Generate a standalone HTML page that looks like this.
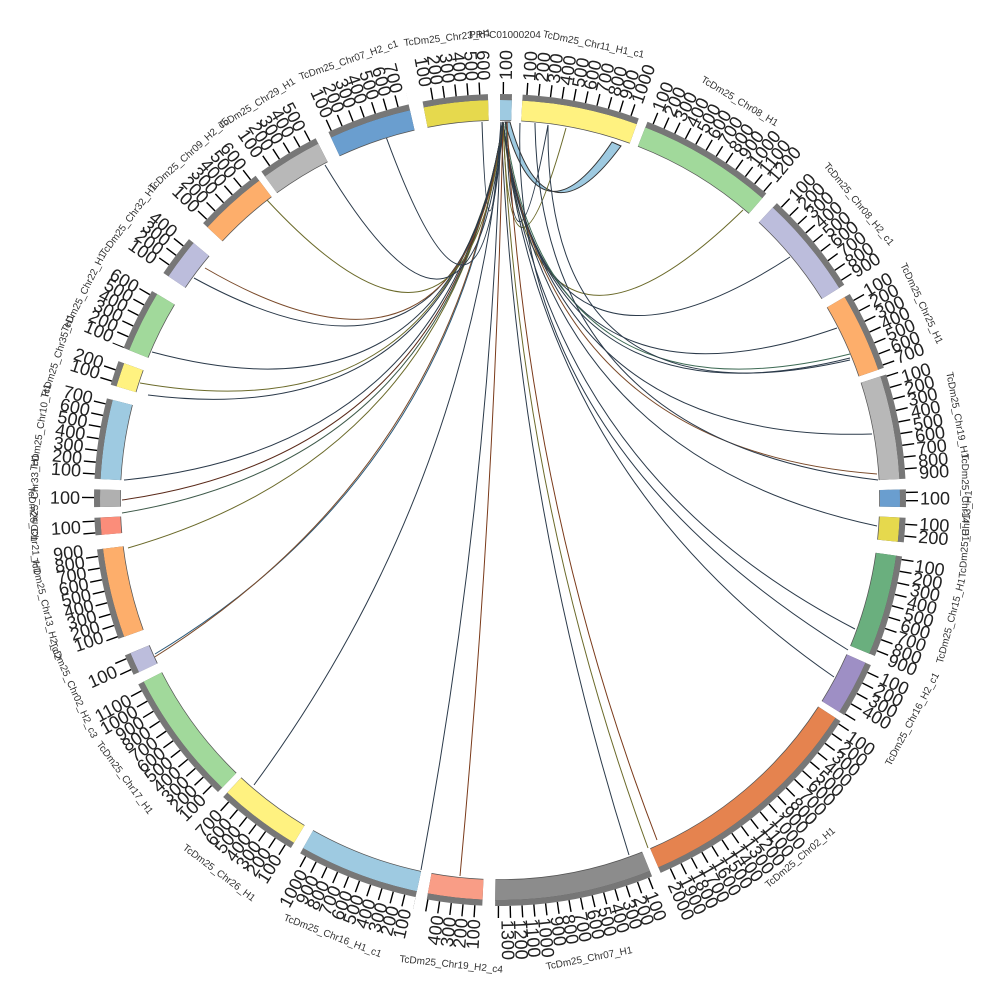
<!DOCTYPE html>
<html><head><meta charset="utf-8"><style>
html,body{margin:0;padding:0;background:#fff;width:1000px;height:1000px;overflow:hidden}
svg{display:block}
circle{fill:none}
.n text{font-family:"Liberation Sans",sans-serif;font-size:18px;fill:#222}
.nm text{font-family:"Liberation Sans",sans-serif;font-size:10px;fill:#333;text-anchor:middle}
.lk path{fill:none;stroke-width:1}
</style></head><body>
<svg width="1000" height="1000" viewBox="0 0 1000 1000" xmlns="http://www.w3.org/2000/svg">
<defs>
<g id="ga">
<circle r="390" pathLength="360" stroke-dasharray="1.7 400" transform="rotate(-90)"/>
<circle r="390" pathLength="360" stroke-dasharray="16.8 400" transform="rotate(-86.8)"/>
<circle r="390" pathLength="360" stroke-dasharray="19.7 400" transform="rotate(-68.7)"/>
<circle r="390" pathLength="360" stroke-dasharray="15 400" transform="rotate(-47)"/>
<circle r="390" pathLength="360" stroke-dasharray="11.5 400" transform="rotate(-30.5)"/>
<circle r="390" pathLength="360" stroke-dasharray="15 400" transform="rotate(-18)"/>
<circle r="390" pathLength="360" stroke-dasharray="2.5 400" transform="rotate(-1.5)"/>
<circle r="390" pathLength="360" stroke-dasharray="3.5 400" transform="rotate(2.5)"/>
<circle r="390" pathLength="360" stroke-dasharray="14.6 400" transform="rotate(8)"/>
<circle r="390" pathLength="360" stroke-dasharray="8 400" transform="rotate(24)"/>
<circle r="390" pathLength="360" stroke-dasharray="33.7 400" transform="rotate(33)"/>
<circle r="390" pathLength="360" stroke-dasharray="22.7 400" transform="rotate(68)"/>
<circle r="390" pathLength="360" stroke-dasharray="7.9 400" transform="rotate(92.5)"/>
<circle r="390" pathLength="360" stroke-dasharray="17.5 400" transform="rotate(102)"/>
<circle r="390" pathLength="360" stroke-dasharray="12 400" transform="rotate(121)"/>
<circle r="390" pathLength="360" stroke-dasharray="19 400" transform="rotate(134)"/>
<circle r="390" pathLength="360" stroke-dasharray="3 400" transform="rotate(154.5)"/>
<circle r="390" pathLength="360" stroke-dasharray="13 400" transform="rotate(160)"/>
<circle r="390" pathLength="360" stroke-dasharray="2.5 400" transform="rotate(175)"/>
<circle r="390" pathLength="360" stroke-dasharray="2.5 400" transform="rotate(179)"/>
<circle r="390" pathLength="360" stroke-dasharray="11.5 400" transform="rotate(183)"/>
<circle r="390" pathLength="360" stroke-dasharray="3.5 400" transform="rotate(196.5)"/>
<circle r="390" pathLength="360" stroke-dasharray="9 400" transform="rotate(202)"/>
<circle r="390" pathLength="360" stroke-dasharray="6 400" transform="rotate(214)"/>
<circle r="390" pathLength="360" stroke-dasharray="10 400" transform="rotate(223)"/>
<circle r="390" pathLength="360" stroke-dasharray="9 400" transform="rotate(234)"/>
<circle r="390" pathLength="360" stroke-dasharray="12 400" transform="rotate(245)"/>
<circle r="390" pathLength="360" stroke-dasharray="9.3 400" transform="rotate(259)"/>
</g>
<g id="gb">
<circle r="403" pathLength="360" stroke-dasharray="1.7 400" transform="rotate(-90)"/>
<circle r="403" pathLength="360" stroke-dasharray="16.8 400" transform="rotate(-86.8)"/>
<circle r="403" pathLength="360" stroke-dasharray="19.7 400" transform="rotate(-68.7)"/>
<circle r="403" pathLength="360" stroke-dasharray="15 400" transform="rotate(-47)"/>
<circle r="403" pathLength="360" stroke-dasharray="11.5 400" transform="rotate(-30.5)"/>
<circle r="403" pathLength="360" stroke-dasharray="15 400" transform="rotate(-18)"/>
<circle r="403" pathLength="360" stroke-dasharray="2.5 400" transform="rotate(-1.5)"/>
<circle r="403" pathLength="360" stroke-dasharray="3.5 400" transform="rotate(2.5)"/>
<circle r="403" pathLength="360" stroke-dasharray="14.6 400" transform="rotate(8)"/>
<circle r="403" pathLength="360" stroke-dasharray="8 400" transform="rotate(24)"/>
<circle r="403" pathLength="360" stroke-dasharray="33.7 400" transform="rotate(33)"/>
<circle r="403" pathLength="360" stroke-dasharray="22.7 400" transform="rotate(68)"/>
<circle r="403" pathLength="360" stroke-dasharray="7.9 400" transform="rotate(92.5)"/>
<circle r="403" pathLength="360" stroke-dasharray="17.5 400" transform="rotate(102)"/>
<circle r="403" pathLength="360" stroke-dasharray="12 400" transform="rotate(121)"/>
<circle r="403" pathLength="360" stroke-dasharray="19 400" transform="rotate(134)"/>
<circle r="403" pathLength="360" stroke-dasharray="3 400" transform="rotate(154.5)"/>
<circle r="403" pathLength="360" stroke-dasharray="13 400" transform="rotate(160)"/>
<circle r="403" pathLength="360" stroke-dasharray="2.5 400" transform="rotate(175)"/>
<circle r="403" pathLength="360" stroke-dasharray="2.5 400" transform="rotate(179)"/>
<circle r="403" pathLength="360" stroke-dasharray="11.5 400" transform="rotate(183)"/>
<circle r="403" pathLength="360" stroke-dasharray="3.5 400" transform="rotate(196.5)"/>
<circle r="403" pathLength="360" stroke-dasharray="9 400" transform="rotate(202)"/>
<circle r="403" pathLength="360" stroke-dasharray="6 400" transform="rotate(214)"/>
<circle r="403" pathLength="360" stroke-dasharray="10 400" transform="rotate(223)"/>
<circle r="403" pathLength="360" stroke-dasharray="9 400" transform="rotate(234)"/>
<circle r="403" pathLength="360" stroke-dasharray="12 400" transform="rotate(245)"/>
<circle r="403" pathLength="360" stroke-dasharray="9.3 400" transform="rotate(259)"/>
</g>
<mask id="tm" maskUnits="userSpaceOnUse" x="-500" y="-500" width="1000" height="1000">
<use href="#gb" stroke="#fff" stroke-width="34"/>
</mask>
</defs>

<g class="lk">
<path d="M612,142 Q540,250 505,122 L510,122 Q545,250 621,146 Z" stroke="#333" stroke-width="0.6" style="fill:#9ecae1"/>
<path d="M503,122 Q510,330 566,128" stroke="#6b6a2a"/>
<path d="M506,122 Q512,320 548,125" stroke="#2b3a4a"/>
<path d="M503,122 Q531,417 743,210" stroke="#6b6a2a"/>
<path d="M503,122 Q537,422 790,257" stroke="#2b3a4a"/>
<path d="M503,122 Q542,431 837,328" stroke="#2b3a4a"/>
<path d="M503,124 Q544,435 850,358" stroke="#2b3a4a" stroke-width="2.5"/>
<path d="M505,124 Q544,430 850,354" stroke="#3e6b55" stroke-width="1.5"/>
<path d="M503,122 Q547,444 872,434" stroke="#2b3a4a"/>
<path d="M503,122 Q547,449 877,474" stroke="#7a4a2a"/>
<path d="M503,122 Q547,456 877,526" stroke="#2b3a4a"/>
<path d="M503,122 Q545,469 855,629" stroke="#2b3a4a"/>
<path d="M503,122 Q542,475 834,677" stroke="#2b3a4a"/>
<path d="M503,122 Q519,496 648,848" stroke="#6b6a2a" stroke-width="1.5"/>
<path d="M501,122 Q516,497 629,855" stroke="#2b3a4a" stroke-width="1.5"/>
<path d="M507,122 Q525,497 657,840" stroke="#7a3a1a"/>
<path d="M503,122 Q495,500 460,876" stroke="#7a3a1a"/>
<path d="M501,122 Q490,499 421,870" stroke="#2b3a4a"/>
<path d="M503,122 Q471,490 254,785" stroke="#2b3a4a"/>
<path d="M503,122 Q457,472 155,654" stroke="#2b5a7a"/>
<path d="M503,122 Q456,469 150,660" stroke="#7a4a2a"/>
<path d="M503,122 Q453,454 128,548" stroke="#6b6a2a"/>
<path d="M503,122 Q453,458 122,513" stroke="#3e5a4a"/>
<path d="M503,122 Q453,453 122,500" stroke="#5a2a1a" stroke-width="3"/>
<path d="M503,122 Q453,448 124,480" stroke="#2b3a4a"/>
<path d="M503,122 Q455,438 140,383" stroke="#6b6a2a"/>
<path d="M503,122 Q457,434 148,395" stroke="#2b3a4a"/>
<path d="M503,122 Q457,434 152,352" stroke="#2b3a4a"/>
<path d="M503,122 Q462,425 194,278" stroke="#2b3a4a"/>
<path d="M503,122 Q466,420 205,268" stroke="#7a4a2a"/>
<path d="M503,122 Q469,418 267,200" stroke="#6b6a2a"/>
<path d="M503,122 Q474,413 325,165" stroke="#2b3a4a"/>
<path d="M503,122 Q482,409 380,120" stroke="#2b3a4a"/>
<path d="M501,122 Q488,300 482,122" stroke="#2b3a4a"/>
<path d="M548,125 Q545,430 850,360" stroke="#2b3a4a"/>
<path d="M535,123 Q540,440 878,480" stroke="#2b3a4a"/>
<path d="M520,123 Q510,440 848,650" stroke="#2b3a4a"/>
</g>

<g transform="translate(500,500)">
<use href="#ga" stroke="#555" stroke-width="21.5"/>
<g stroke-width="20">
<circle r="390" pathLength="360" stroke="#9ecae1" stroke-dasharray="1.7 400" transform="rotate(-90)"/>
<circle r="390" pathLength="360" stroke="#fff280" stroke-dasharray="16.8 400" transform="rotate(-86.8)"/>
<circle r="390" pathLength="360" stroke="#a1d99b" stroke-dasharray="19.7 400" transform="rotate(-68.7)"/>
<circle r="390" pathLength="360" stroke="#bcbddc" stroke-dasharray="15 400" transform="rotate(-47)"/>
<circle r="390" pathLength="360" stroke="#fdae6b" stroke-dasharray="11.5 400" transform="rotate(-30.5)"/>
<circle r="390" pathLength="360" stroke="#b8b8b8" stroke-dasharray="15 400" transform="rotate(-18)"/>
<circle r="390" pathLength="360" stroke="#6a9ecf" stroke-dasharray="2.5 400" transform="rotate(-1.5)"/>
<circle r="390" pathLength="360" stroke="#e6d94d" stroke-dasharray="3.5 400" transform="rotate(2.5)"/>
<circle r="390" pathLength="360" stroke="#6aaf7e" stroke-dasharray="14.6 400" transform="rotate(8)"/>
<circle r="390" pathLength="360" stroke="#9e8fc5" stroke-dasharray="8 400" transform="rotate(24)"/>
<circle r="390" pathLength="360" stroke="#e5834f" stroke-dasharray="33.7 400" transform="rotate(33)"/>
<circle r="390" pathLength="360" stroke="#8c8c8c" stroke-dasharray="22.7 400" transform="rotate(68)"/>
<circle r="390" pathLength="360" stroke="#f99d86" stroke-dasharray="7.9 400" transform="rotate(92.5)"/>
<circle r="390" pathLength="360" stroke="#9ecae1" stroke-dasharray="17.5 400" transform="rotate(102)"/>
<circle r="390" pathLength="360" stroke="#fff280" stroke-dasharray="12 400" transform="rotate(121)"/>
<circle r="390" pathLength="360" stroke="#a1d99b" stroke-dasharray="19 400" transform="rotate(134)"/>
<circle r="390" pathLength="360" stroke="#bcbddc" stroke-dasharray="3 400" transform="rotate(154.5)"/>
<circle r="390" pathLength="360" stroke="#fdae6b" stroke-dasharray="13 400" transform="rotate(160)"/>
<circle r="390" pathLength="360" stroke="#fb8d7a" stroke-dasharray="2.5 400" transform="rotate(175)"/>
<circle r="390" pathLength="360" stroke="#b0b0b0" stroke-dasharray="2.5 400" transform="rotate(179)"/>
<circle r="390" pathLength="360" stroke="#9ecae1" stroke-dasharray="11.5 400" transform="rotate(183)"/>
<circle r="390" pathLength="360" stroke="#fff280" stroke-dasharray="3.5 400" transform="rotate(196.5)"/>
<circle r="390" pathLength="360" stroke="#a1d99b" stroke-dasharray="9 400" transform="rotate(202)"/>
<circle r="390" pathLength="360" stroke="#bcbddc" stroke-dasharray="6 400" transform="rotate(214)"/>
<circle r="390" pathLength="360" stroke="#fdae6b" stroke-dasharray="10 400" transform="rotate(223)"/>
<circle r="390" pathLength="360" stroke="#b8b8b8" stroke-dasharray="9 400" transform="rotate(234)"/>
<circle r="390" pathLength="360" stroke="#6a9ecf" stroke-dasharray="12 400" transform="rotate(245)"/>
<circle r="390" pathLength="360" stroke="#e6d94d" stroke-dasharray="9.3 400" transform="rotate(259)"/>
</g>
<use href="#gb" stroke="#777" stroke-width="6"/>
<circle r="412" stroke="#000" stroke-width="12" stroke-dasharray="1.4 10.6" mask="url(#tm)"/>

<g class="n">
<g>
<text transform="rotate(-89.2)" x="420" dy="6">100</text>
<text transform="rotate(-86)" x="420" dy="6">100</text>
<text transform="rotate(-84.3)" x="420" dy="6">200</text>
<text transform="rotate(-82.7)" x="420" dy="6">300</text>
<text transform="rotate(-81)" x="420" dy="6">400</text>
<text transform="rotate(-79.3)" x="420" dy="6">500</text>
<text transform="rotate(-77.7)" x="420" dy="6">600</text>
<text transform="rotate(-76)" x="420" dy="6">700</text>
<text transform="rotate(-74.3)" x="420" dy="6">800</text>
<text transform="rotate(-72.7)" x="420" dy="6">900</text>
<text transform="rotate(-71)" x="420" dy="6">1000</text>
<text transform="rotate(-68)" x="420" dy="6">100</text>
<text transform="rotate(-66.3)" x="420" dy="6">200</text>
<text transform="rotate(-64.7)" x="420" dy="6">300</text>
<text transform="rotate(-63)" x="420" dy="6">400</text>
<text transform="rotate(-61.3)" x="420" dy="6">500</text>
<text transform="rotate(-59.7)" x="420" dy="6">600</text>
<text transform="rotate(-58)" x="420" dy="6">700</text>
<text transform="rotate(-56.3)" x="420" dy="6">800</text>
<text transform="rotate(-54.7)" x="420" dy="6">900</text>
<text transform="rotate(-53)" x="420" dy="6">1000</text>
<text transform="rotate(-51.3)" x="420" dy="6">1100</text>
<text transform="rotate(-49.7)" x="420" dy="6">1200</text>
<text transform="rotate(-46)" x="420" dy="6">100</text>
<text transform="rotate(-44.3)" x="420" dy="6">200</text>
<text transform="rotate(-42.7)" x="420" dy="6">300</text>
<text transform="rotate(-41)" x="420" dy="6">400</text>
<text transform="rotate(-39.3)" x="420" dy="6">500</text>
<text transform="rotate(-37.7)" x="420" dy="6">600</text>
<text transform="rotate(-36)" x="420" dy="6">700</text>
<text transform="rotate(-34.3)" x="420" dy="6">800</text>
<text transform="rotate(-32.7)" x="420" dy="6">900</text>
<text transform="rotate(-29.7)" x="420" dy="6">100</text>
<text transform="rotate(-28)" x="420" dy="6">200</text>
<text transform="rotate(-26.3)" x="420" dy="6">300</text>
<text transform="rotate(-24.7)" x="420" dy="6">400</text>
<text transform="rotate(-23)" x="420" dy="6">500</text>
<text transform="rotate(-21.3)" x="420" dy="6">600</text>
<text transform="rotate(-19.7)" x="420" dy="6">700</text>
<text transform="rotate(-17)" x="420" dy="6">100</text>
<text transform="rotate(-15.3)" x="420" dy="6">200</text>
<text transform="rotate(-13.7)" x="420" dy="6">300</text>
<text transform="rotate(-12)" x="420" dy="6">400</text>
<text transform="rotate(-10.3)" x="420" dy="6">500</text>
<text transform="rotate(-8.7)" x="420" dy="6">600</text>
<text transform="rotate(-7)" x="420" dy="6">700</text>
<text transform="rotate(-5.3)" x="420" dy="6">800</text>
<text transform="rotate(-3.7)" x="420" dy="6">900</text>
<text transform="rotate(-0.2)" x="420" dy="6">100</text>
<text transform="rotate(3.3)" x="420" dy="6">100</text>
<text transform="rotate(5)" x="420" dy="6">200</text>
<text transform="rotate(9)" x="420" dy="6">100</text>
<text transform="rotate(10.7)" x="420" dy="6">200</text>
<text transform="rotate(12.3)" x="420" dy="6">300</text>
<text transform="rotate(14)" x="420" dy="6">400</text>
<text transform="rotate(15.7)" x="420" dy="6">500</text>
<text transform="rotate(17.3)" x="420" dy="6">600</text>
<text transform="rotate(19)" x="420" dy="6">700</text>
<text transform="rotate(20.7)" x="420" dy="6">800</text>
<text transform="rotate(22.3)" x="420" dy="6">900</text>
<text transform="rotate(25)" x="420" dy="6">100</text>
<text transform="rotate(26.7)" x="420" dy="6">200</text>
<text transform="rotate(28.3)" x="420" dy="6">300</text>
<text transform="rotate(30)" x="420" dy="6">400</text>
<text transform="rotate(34)" x="420" dy="6">100</text>
<text transform="rotate(35.7)" x="420" dy="6">200</text>
<text transform="rotate(37.3)" x="420" dy="6">300</text>
<text transform="rotate(39)" x="420" dy="6">400</text>
<text transform="rotate(40.7)" x="420" dy="6">500</text>
<text transform="rotate(42.3)" x="420" dy="6">600</text>
<text transform="rotate(44)" x="420" dy="6">700</text>
<text transform="rotate(45.7)" x="420" dy="6">800</text>
<text transform="rotate(47.3)" x="420" dy="6">900</text>
<text transform="rotate(49)" x="420" dy="6">1000</text>
<text transform="rotate(50.7)" x="420" dy="6">1100</text>
<text transform="rotate(52.3)" x="420" dy="6">1200</text>
<text transform="rotate(54)" x="420" dy="6">1300</text>
<text transform="rotate(55.7)" x="420" dy="6">1400</text>
<text transform="rotate(57.3)" x="420" dy="6">1500</text>
<text transform="rotate(59)" x="420" dy="6">1600</text>
<text transform="rotate(60.7)" x="420" dy="6">1700</text>
<text transform="rotate(62.3)" x="420" dy="6">1800</text>
<text transform="rotate(64)" x="420" dy="6">1900</text>
<text transform="rotate(65.7)" x="420" dy="6">2000</text>
<text transform="rotate(69)" x="420" dy="6">100</text>
<text transform="rotate(70.7)" x="420" dy="6">200</text>
<text transform="rotate(72.3)" x="420" dy="6">300</text>
<text transform="rotate(74)" x="420" dy="6">400</text>
<text transform="rotate(75.7)" x="420" dy="6">500</text>
<text transform="rotate(77.3)" x="420" dy="6">600</text>
<text transform="rotate(79)" x="420" dy="6">700</text>
<text transform="rotate(80.7)" x="420" dy="6">800</text>
<text transform="rotate(82.3)" x="420" dy="6">900</text>
<text transform="rotate(84)" x="420" dy="6">1000</text>
<text transform="rotate(85.7)" x="420" dy="6">1100</text>
<text transform="rotate(87.3)" x="420" dy="6">1200</text>
<text transform="rotate(89)" x="420" dy="6">1300</text>
</g>
<g text-anchor="end">
<text transform="rotate(-86.5)" x="-420" dy="6">100</text>
<text transform="rotate(-84.8)" x="-420" dy="6">200</text>
<text transform="rotate(-83.2)" x="-420" dy="6">300</text>
<text transform="rotate(-81.5)" x="-420" dy="6">400</text>
<text transform="rotate(-77)" x="-420" dy="6">100</text>
<text transform="rotate(-75.3)" x="-420" dy="6">200</text>
<text transform="rotate(-73.7)" x="-420" dy="6">300</text>
<text transform="rotate(-72)" x="-420" dy="6">400</text>
<text transform="rotate(-70.3)" x="-420" dy="6">500</text>
<text transform="rotate(-68.7)" x="-420" dy="6">600</text>
<text transform="rotate(-67)" x="-420" dy="6">700</text>
<text transform="rotate(-65.3)" x="-420" dy="6">800</text>
<text transform="rotate(-63.7)" x="-420" dy="6">900</text>
<text transform="rotate(-62)" x="-420" dy="6">1000</text>
<text transform="rotate(-58)" x="-420" dy="6">100</text>
<text transform="rotate(-56.3)" x="-420" dy="6">200</text>
<text transform="rotate(-54.7)" x="-420" dy="6">300</text>
<text transform="rotate(-53)" x="-420" dy="6">400</text>
<text transform="rotate(-51.3)" x="-420" dy="6">500</text>
<text transform="rotate(-49.7)" x="-420" dy="6">600</text>
<text transform="rotate(-48)" x="-420" dy="6">700</text>
<text transform="rotate(-45)" x="-420" dy="6">100</text>
<text transform="rotate(-43.3)" x="-420" dy="6">200</text>
<text transform="rotate(-41.7)" x="-420" dy="6">300</text>
<text transform="rotate(-40)" x="-420" dy="6">400</text>
<text transform="rotate(-38.3)" x="-420" dy="6">500</text>
<text transform="rotate(-36.7)" x="-420" dy="6">600</text>
<text transform="rotate(-35)" x="-420" dy="6">700</text>
<text transform="rotate(-33.3)" x="-420" dy="6">800</text>
<text transform="rotate(-31.7)" x="-420" dy="6">900</text>
<text transform="rotate(-30)" x="-420" dy="6">1000</text>
<text transform="rotate(-28.3)" x="-420" dy="6">1100</text>
<text transform="rotate(-24)" x="-420" dy="6">100</text>
<text transform="rotate(-19)" x="-420" dy="6">100</text>
<text transform="rotate(-17.5)" x="-420" dy="6">200</text>
<text transform="rotate(-16)" x="-420" dy="6">300</text>
<text transform="rotate(-14.5)" x="-420" dy="6">400</text>
<text transform="rotate(-13)" x="-420" dy="6">500</text>
<text transform="rotate(-11.5)" x="-420" dy="6">600</text>
<text transform="rotate(-10)" x="-420" dy="6">700</text>
<text transform="rotate(-8.5)" x="-420" dy="6">800</text>
<text transform="rotate(-7)" x="-420" dy="6">900</text>
<text transform="rotate(-3.7)" x="-420" dy="6">100</text>
<text transform="rotate(0.3)" x="-420" dy="6">100</text>
<text transform="rotate(4)" x="-420" dy="6">100</text>
<text transform="rotate(5.7)" x="-420" dy="6">200</text>
<text transform="rotate(7.3)" x="-420" dy="6">300</text>
<text transform="rotate(9)" x="-420" dy="6">400</text>
<text transform="rotate(10.7)" x="-420" dy="6">500</text>
<text transform="rotate(12.3)" x="-420" dy="6">600</text>
<text transform="rotate(14)" x="-420" dy="6">700</text>
<text transform="rotate(17.5)" x="-420" dy="6">100</text>
<text transform="rotate(19)" x="-420" dy="6">200</text>
<text transform="rotate(22.8)" x="-420" dy="6">100</text>
<text transform="rotate(24.3)" x="-420" dy="6">200</text>
<text transform="rotate(25.8)" x="-420" dy="6">300</text>
<text transform="rotate(27.3)" x="-420" dy="6">400</text>
<text transform="rotate(28.8)" x="-420" dy="6">500</text>
<text transform="rotate(30.3)" x="-420" dy="6">600</text>
<text transform="rotate(34.8)" x="-420" dy="6">100</text>
<text transform="rotate(36.3)" x="-420" dy="6">200</text>
<text transform="rotate(37.8)" x="-420" dy="6">300</text>
<text transform="rotate(39.3)" x="-420" dy="6">400</text>
<text transform="rotate(43.8)" x="-420" dy="6">100</text>
<text transform="rotate(45.5)" x="-420" dy="6">200</text>
<text transform="rotate(47.2)" x="-420" dy="6">300</text>
<text transform="rotate(48.8)" x="-420" dy="6">400</text>
<text transform="rotate(50.5)" x="-420" dy="6">500</text>
<text transform="rotate(52.2)" x="-420" dy="6">600</text>
<text transform="rotate(55)" x="-420" dy="6">100</text>
<text transform="rotate(56.7)" x="-420" dy="6">200</text>
<text transform="rotate(58.3)" x="-420" dy="6">300</text>
<text transform="rotate(60)" x="-420" dy="6">400</text>
<text transform="rotate(61.7)" x="-420" dy="6">500</text>
<text transform="rotate(65.8)" x="-420" dy="6">100</text>
<text transform="rotate(67.5)" x="-420" dy="6">200</text>
<text transform="rotate(69.2)" x="-420" dy="6">300</text>
<text transform="rotate(70.8)" x="-420" dy="6">400</text>
<text transform="rotate(72.5)" x="-420" dy="6">500</text>
<text transform="rotate(74.2)" x="-420" dy="6">600</text>
<text transform="rotate(75.8)" x="-420" dy="6">700</text>
<text transform="rotate(79.8)" x="-420" dy="6">100</text>
<text transform="rotate(81.4)" x="-420" dy="6">200</text>
<text transform="rotate(83)" x="-420" dy="6">300</text>
<text transform="rotate(84.6)" x="-420" dy="6">400</text>
<text transform="rotate(86.2)" x="-420" dy="6">500</text>
<text transform="rotate(87.8)" x="-420" dy="6">600</text>
</g>
</g>

<g class="nm">
<text x="5" y="-462">PRFC01000204</text>
<text transform="rotate(11.6)" y="-462">TcDm25_Chr11_H1_c1</text>
<text transform="rotate(31)" y="-462">TcDm25_Chr08_H1</text>
<text transform="rotate(50.5)" y="-462">TcDm25_Chr08_H2_c1</text>
<text transform="rotate(65)" y="-462">TcDm25_Chr25_H1</text>
<text transform="rotate(79.5)" y="-462">TcDm25_Chr19_H1</text>
<text transform="rotate(89.7)" y="-462">TcDm25_Chr14_H1</text>
<text transform="rotate(-85.8)" y="470">TcDm25_Chr13_H1</text>
<text transform="rotate(-75)" y="470">TcDm25_Chr15_H1</text>
<text transform="rotate(-62)" y="470">TcDm25_Chr16_H2_c1</text>
<text transform="rotate(-40)" y="470">TcDm25_Chr02_H1</text>
<text transform="rotate(-11)" y="470">TcDm25_Chr07_H1</text>
<text transform="rotate(6)" y="470">TcDm25_Chr19_H2_c4</text>
<text transform="rotate(21)" y="470">TcDm25_Chr16_H1_c1</text>
<text transform="rotate(37)" y="470">TcDm25_Chr26_H1</text>
<text transform="rotate(53.5)" y="470">TcDm25_Chr17_H1</text>
<text transform="rotate(66)" y="470">TcDm25_Chr02_H2_c3</text>
<text transform="rotate(76.5)" y="470">TcDm25_Chr13_H2_c2</text>
<text transform="rotate(86.3)" y="470">TcDm25_Chr21_H1</text>
<text transform="rotate(270.3)" y="-462">TcDm25_Chr33_H1</text>
<text transform="rotate(279)" y="-462">TcDm25_Chr10_H1</text>
<text transform="rotate(288)" y="-462">TcDm25_Chr35_H1</text>
<text transform="rotate(296.5)" y="-462">TcDm25_Chr22_H1</text>
<text transform="rotate(307)" y="-462">TcDm25_Chr32_H1</text>
<text transform="rotate(318)" y="-462">TcDm25_Chr09_H2_c5</text>
<text transform="rotate(328.5)" y="-462">TcDm25_Chr29_H1</text>
<text transform="rotate(341)" y="-462">TcDm25_Chr07_H2_c1</text>
<text transform="rotate(353.5)" y="-462">TcDm25_Chr23_H1</text>
</g>
</g>
</svg>
</body></html>
